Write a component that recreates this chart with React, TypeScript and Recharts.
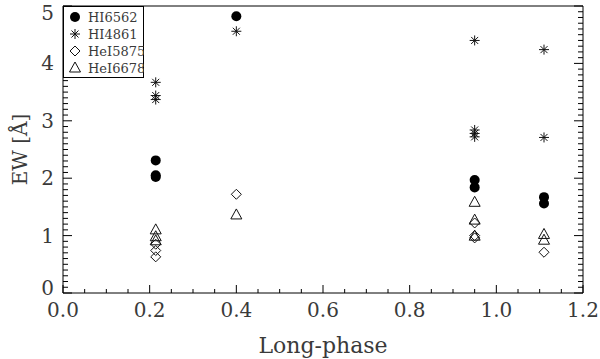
import React from "react";
import { Legend, Scatter, ScatterChart, XAxis, YAxis } from "recharts";

// phase / equivalent width pairs
const hi6562Phase = [0.214, 0.214, 0.214, 0.4, 0.95, 0.95, 1.11, 1.11];
const hi6562Ew = [2.31, 2.05, 2.02, 4.82, 1.97, 1.84, 1.67, 1.56];

const hi4861Phase = [0.214, 0.214, 0.214, 0.4, 0.95, 0.95, 0.95, 0.95, 1.11, 1.11];
const hi4861Ew = [3.67, 3.44, 3.37, 4.56, 4.4, 2.84, 2.78, 2.72, 4.24, 2.71];

const hei5875Phase = [0.214, 0.214, 0.214, 0.4, 0.95, 0.95, 0.95, 1.11];
const hei5875Ew = [0.85, 0.74, 0.63, 1.72, 1.22, 1.0, 0.96, 0.71];

const hei6678Phase = [0.214, 0.214, 0.214, 0.4, 0.95, 0.95, 0.95, 1.11, 1.11];
const hei6678Ew = [1.1, 0.98, 0.91, 1.36, 1.58, 1.27, 0.99, 1.02, 0.92];

const legendNames = ["HI6562", "HI4861", "HeI5875", "HeI6678"];

const xMajor = [0, 0.2, 0.4, 0.6, 0.8, 1.0, 1.2];
const yMajor = [0, 1, 2, 3, 4, 5];
const xMinorStep = 0.05;
const yMinorStep = 0.1;

const FONT = "'DejaVu Serif', serif";
const TEXT = "#3a3a3a";

const toPoints = (xs: number[], ys: number[]) => xs.map((x, i) => ({ x, y: ys[i] }));

const steps = (max: number, step: number) =>
  Array.from({ length: Math.round(max / step) + 1 }, (_, i) => +(i * step).toFixed(4));

const xTicks = steps(1.2, xMinorStep);
const yTicks = steps(5, yMinorStep);

const isMajor = (v: number, list: number[]) => list.some((m) => Math.abs(m - v) < 1e-6);

// IDL style inward ticks
const BottomTick = (props: any) => {
  const { x, y, payload } = props;
  const major = isMajor(payload.value, xMajor);
  return (
    <g>
      <line x1={x} x2={x} y1={y} y2={y - (major ? 8 : 4)} stroke="#000" />
      {major && (
        <text x={x} y={y + 24} textAnchor="middle" fontFamily={FONT} fontSize={20} fill={TEXT}>
          {payload.value.toFixed(1)}
        </text>
      )}
    </g>
  );
};

const TopTick = (props: any) => {
  const { x, y, payload } = props;
  const major = isMajor(payload.value, xMajor);
  return <line x1={x} x2={x} y1={y} y2={y + (major ? 8 : 4)} stroke="#000" />;
};

const LeftTick = (props: any) => {
  const { x, y, payload } = props;
  const major = isMajor(payload.value, yMajor);
  // keep the end labels inside the frame, like the original
  const ly = Math.min(Math.max(y, 13), 288);
  return (
    <g>
      <line x1={x} x2={x + (major ? 9 : 5)} y1={y} y2={y} stroke="#000" />
      {major && (
        <text x={x - 9} y={ly + 7} textAnchor="end" fontFamily={FONT} fontSize={20} fill={TEXT}>
          {payload.value}
        </text>
      )}
    </g>
  );
};

const RightTick = (props: any) => {
  const { x, y, payload } = props;
  const major = isMajor(payload.value, yMajor);
  return <line x1={x} x2={x - (major ? 9 : 5)} y1={y} y2={y} stroke="#000" />;
};

const YTitle = ({ viewBox }: any) => {
  const cx = viewBox.x + 20;
  const cy = viewBox.y + viewBox.height / 2;
  return (
    <text
      x={cx}
      y={cy}
      transform={`rotate(-90, ${cx}, ${cy})`}
      textAnchor="middle"
      dominantBaseline="central"
      fontFamily={FONT}
      fontSize={20}
      fill={TEXT}
    >
      EW [Å]
    </text>
  );
};

const Dot = ({ cx, cy }: any) => <circle cx={cx} cy={cy} r={5} fill="#000" />;

const Star = ({ cx, cy }: any) => {
  const r = 5;
  const d = r * 0.7;
  return (
    <g stroke="#111" strokeWidth={1}>
      <line x1={cx} x2={cx} y1={cy - r} y2={cy + r} />
      <line x1={cx - r} x2={cx + r} y1={cy} y2={cy} />
      <line x1={cx - d} x2={cx + d} y1={cy - d} y2={cy + d} />
      <line x1={cx - d} x2={cx + d} y1={cy + d} y2={cy - d} />
    </g>
  );
};

const Diamond = ({ cx, cy }: any) => (
  <path
    d={`M${cx},${cy - 5}L${cx + 5},${cy}L${cx},${cy + 5}L${cx - 5},${cy}Z`}
    fill="none"
    stroke="#111"
  />
);

const Triangle = ({ cx, cy }: any) => (
  <path
    d={`M${cx},${cy - 6}L${cx + 5.5},${cy + 4}L${cx - 5.5},${cy + 4}Z`}
    fill="none"
    stroke="#111"
  />
);

const shapes = [Dot, Star, Diamond, Triangle];

const LegendBox = () => (
  <svg width={81} height={72} style={{ display: "block" }}>
    <rect x={0.5} y={0.5} width={80} height={71} fill="#fff" stroke="#000" />
    {legendNames.map((name, i) => {
      const Shape = shapes[i];
      const cy = 11 + i * 17;
      return (
        <g key={name}>
          <Shape cx={12} cy={cy} />
          <text x={25} y={cy + 5} fontFamily={FONT} fontSize={13} fill={TEXT}>
            {name}
          </text>
        </g>
      );
    })}
  </svg>
);

export default function App() {
  return (
    <div style={{ position: "absolute", left: 0, top: 0, width: 600, height: 359, background: "#fff" }}>
      <ScatterChart width={600} height={359} margin={{ top: 5, right: 16, bottom: 0, left: 0 }}>
        <XAxis
          xAxisId="main"
          dataKey="x"
          type="number"
          domain={[0, 1.2]}
          allowDataOverflow
          ticks={xTicks}
          interval={0}
          tickSize={0}
          tickMargin={0}
          tick={<BottomTick />}
          height={66}
          axisLine={{ stroke: "#000" }}
          label={{ value: "Long-phase", position: "insideBottom", offset: 6, fontFamily: FONT, fontSize: 22, fill: TEXT }}
        />
        <XAxis
          xAxisId="top"
          orientation="top"
          type="number"
          domain={[0, 1.2]}
          allowDataOverflow
          ticks={xTicks}
          interval={0}
          tickSize={0}
          tickMargin={0}
          tick={<TopTick />}
          height={1}
          axisLine={{ stroke: "#000" }}
        />
        <YAxis
          yAxisId="main"
          dataKey="y"
          type="number"
          domain={[0, 5]}
          allowDataOverflow
          ticks={yTicks}
          interval={0}
          tickSize={0}
          tickMargin={0}
          tick={<LeftTick />}
          width={63}
          axisLine={{ stroke: "#000" }}
          label={{ content: <YTitle /> }}
        />
        <YAxis
          yAxisId="right"
          orientation="right"
          type="number"
          domain={[0, 5]}
          allowDataOverflow
          ticks={yTicks}
          interval={0}
          tickSize={0}
          tickMargin={0}
          tick={<RightTick />}
          width={1}
          axisLine={{ stroke: "#000" }}
        />
        <Legend
          layout="horizontal"
          verticalAlign="middle"
          align="center"
          content={<LegendBox />}
          wrapperStyle={{ left: 63, top: 6, width: 81, height: 72 }}
        />
        <Scatter name={legendNames[0]} xAxisId="main" yAxisId="main" data={toPoints(hi6562Phase, hi6562Ew)} shape={<Dot />} isAnimationActive={false} />
        <Scatter name={legendNames[1]} xAxisId="main" yAxisId="main" data={toPoints(hi4861Phase, hi4861Ew)} shape={<Star />} isAnimationActive={false} />
        <Scatter name={legendNames[2]} xAxisId="main" yAxisId="main" data={toPoints(hei5875Phase, hei5875Ew)} shape={<Diamond />} isAnimationActive={false} />
        <Scatter name={legendNames[3]} xAxisId="main" yAxisId="main" data={toPoints(hei6678Phase, hei6678Ew)} shape={<Triangle />} isAnimationActive={false} />
      </ScatterChart>
    </div>
  );
}
